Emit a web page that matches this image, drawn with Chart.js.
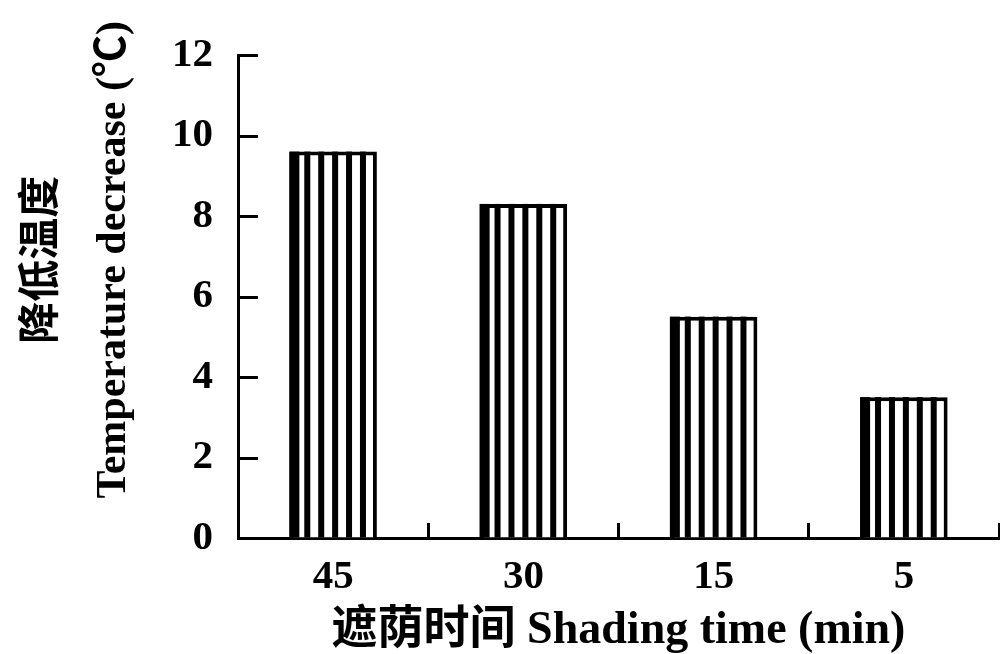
<!DOCTYPE html>
<html>
<head>
<meta charset="utf-8">
<script src="https://cdn.jsdelivr.net/npm/chart.js@4"></script>
<style>
  html, body { margin: 0; padding: 0; background: #fff; }
  #wrap { width: 1000px; height: 654px; }
</style>
</head>
<body>
<div id="wrap"><canvas id="myChart"></canvas></div>
<script>
// Data
const shadingTimes = ['45', '30', '15', '5'];
const tempDecrease = [9.6, 8.3, 5.5, 3.5];
const yTicks = [0, 2, 4, 6, 8, 10, 12];

const FONT = '"Liberation Serif", "Times New Roman", "Noto Sans CJK SC", serif';

// Vertical stripes inside every bar, plus inward tick marks on the y axis
const extras = {
    id: 'extras',
    afterDatasetsDraw(chart) {
        const ctx = chart.ctx;
        const meta = chart.getDatasetMeta(0);
        ctx.save();
        ctx.fillStyle = '#000';
        meta.data.forEach(bar => {
            const left = bar.x - bar.width / 2;
            const top = Math.min(bar.y, bar.base);
            const h = Math.abs(bar.base - bar.y);
            ctx.fillRect(left, top, 10, h); // heavier left edge
            for (let i = 1; i <= 5; i++) {
                const cx = left + 4 + (bar.width - 4) * i / 6;
                ctx.fillRect(cx - 3, top, 6, h);
            }
        });

        const y = chart.scales.y;
        ctx.strokeStyle = '#000';
        ctx.lineWidth = 3;
        yTicks.forEach(v => {
            const py = Math.round(y.getPixelForValue(v)) + 0.5;
            ctx.beginPath();
            ctx.moveTo(y.right, py);
            ctx.lineTo(y.right + 20, py);
            ctx.stroke();
        });
        ctx.restore();
    }
};

new Chart(document.getElementById('myChart').getContext('2d'), {
    type: 'bar',
    data: {
        labels: shadingTimes,
        datasets: [{
            data: tempDecrease,
            backgroundColor: '#fff',
            borderColor: '#000',
            borderWidth: 4,
            borderSkipped: 'bottom',
            categoryPercentage: 1,
            barPercentage: 0.46
        }]
    },
    options: {
        responsive: true,
        maintainAspectRatio: false,
        animation: false,
        layout: { padding: { top: 55, right: 1, left: 0, bottom: 0 } },
        plugins: {
            legend: { display: false },
            tooltip: { enabled: false }
        },
        scales: {
            x: {
                afterFit: s => { s.height = 116; },
                border: { color: '#000', width: 3 },
                grid: {
                    offset: true,
                    drawOnChartArea: false,
                    drawTicks: true,
                    tickLength: -15,
                    tickWidth: 3,
                    color: '#000'
                },
                ticks: {
                    color: '#000',
                    padding: 30,
                    font: { family: FONT, size: 41, weight: 'bold' }
                },
                title: {
                    display: true,
                    text: '遮荫时间 Shading time (min)',
                    color: '#000',
                    padding: { top: 0, bottom: 0 },
                    font: { family: FONT, size: 46, weight: 'bold', lineHeight: 1.0 }
                }
            },
            y: {
                min: 0,
                max: 12,
                afterFit: s => { s.width = 238; },
                afterBuildTicks: s => { s.ticks = yTicks.map(v => ({ value: v })); },
                border: { color: '#000', width: 3 },
                grid: {
                    drawOnChartArea: false,
                    drawTicks: false
                },
                ticks: {
                    color: '#000',
                    padding: 25,
                    font: { family: FONT, size: 41, weight: 'bold' }
                },
                title: {
                    display: true,
                    // leading spaces nudge the rotated text upward, as in the original
                    text: ['\u3000   降低温度', '       Temperature decrease (℃)'],
                    color: '#000',
                    padding: { top: 7, bottom: 0 },
                    font: { family: FONT, size: 42, weight: 'bold', lineHeight: 1.7 }
                }
            }
        }
    },
    plugins: [extras]
});
</script>
</body>
</html>
